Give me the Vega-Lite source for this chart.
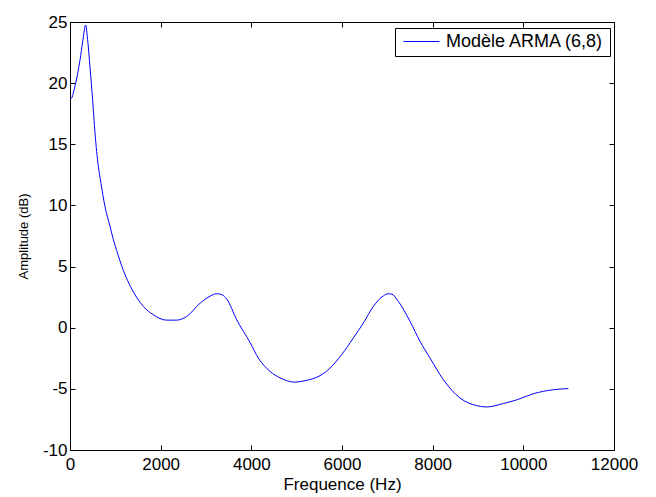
{
  "$schema": "https://vega.github.io/schema/vega-lite/v6.json",
  "width": 544,
  "height": 428,
  "autosize": "none",
  "padding": {"left": 70, "top": 22, "right": 42, "bottom": 47},
  "background": "white",
  "config": {
    "font": "Liberation Sans",
    "view": {"stroke": "black", "strokeWidth": 1},
    "axis": {
      "grid": false,
      "domainColor": "black",
      "domainWidth": 1,
      "tickColor": "black",
      "tickSize": -5,
      "labelColor": "black",
      "titleColor": "black",
      "labelFont": "Liberation Sans",
      "titleFont": "Liberation Sans",
      "titleFontWeight": "normal",
      "labelFontSize": 17
    }
  },
  "data": {
    "values": [
      {"f": 0, "a": 18.7, "s": "Modèle ARMA (6,8)"},
      {"f": 40, "a": 18.8, "s": "Modèle ARMA (6,8)"},
      {"f": 73, "a": 19.2, "s": "Modèle ARMA (6,8)"},
      {"f": 126, "a": 20.0, "s": "Modèle ARMA (6,8)"},
      {"f": 221, "a": 21.9, "s": "Modèle ARMA (6,8)"},
      {"f": 280, "a": 23.4, "s": "Modèle ARMA (6,8)"},
      {"f": 346, "a": 24.75, "s": "Modèle ARMA (6,8)"},
      {"f": 382, "a": 23.8, "s": "Modèle ARMA (6,8)"},
      {"f": 441, "a": 21.3, "s": "Modèle ARMA (6,8)"},
      {"f": 500, "a": 18.6, "s": "Modèle ARMA (6,8)"},
      {"f": 552, "a": 15.9, "s": "Modèle ARMA (6,8)"},
      {"f": 625, "a": 13.2, "s": "Modèle ARMA (6,8)"},
      {"f": 684, "a": 11.8, "s": "Modèle ARMA (6,8)"},
      {"f": 772, "a": 9.9, "s": "Modèle ARMA (6,8)"},
      {"f": 882, "a": 8.3, "s": "Modèle ARMA (6,8)"},
      {"f": 956, "a": 7.2, "s": "Modèle ARMA (6,8)"},
      {"f": 1030, "a": 6.3, "s": "Modèle ARMA (6,8)"},
      {"f": 1176, "a": 4.7, "s": "Modèle ARMA (6,8)"},
      {"f": 1434, "a": 2.7, "s": "Modèle ARMA (6,8)"},
      {"f": 1618, "a": 1.74, "s": "Modèle ARMA (6,8)"},
      {"f": 1838, "a": 1.06, "s": "Modèle ARMA (6,8)"},
      {"f": 2133, "a": 0.62, "s": "Modèle ARMA (6,8)"},
      {"f": 2353, "a": 0.62, "s": "Modèle ARMA (6,8)"},
      {"f": 2574, "a": 0.92, "s": "Modèle ARMA (6,8)"},
      {"f": 2868, "a": 2.0, "s": "Modèle ARMA (6,8)"},
      {"f": 3100, "a": 2.6, "s": "Modèle ARMA (6,8)"},
      {"f": 3236, "a": 2.78, "s": "Modèle ARMA (6,8)"},
      {"f": 3350, "a": 2.7, "s": "Modèle ARMA (6,8)"},
      {"f": 3457, "a": 2.35, "s": "Modèle ARMA (6,8)"},
      {"f": 3677, "a": 0.65, "s": "Modèle ARMA (6,8)"},
      {"f": 3971, "a": -1.2, "s": "Modèle ARMA (6,8)"},
      {"f": 4155, "a": -2.48, "s": "Modèle ARMA (6,8)"},
      {"f": 4412, "a": -3.57, "s": "Modèle ARMA (6,8)"},
      {"f": 4633, "a": -4.1, "s": "Modèle ARMA (6,8)"},
      {"f": 4964, "a": -4.45, "s": "Modèle ARMA (6,8)"},
      {"f": 5184, "a": -4.33, "s": "Modèle ARMA (6,8)"},
      {"f": 5515, "a": -3.92, "s": "Modèle ARMA (6,8)"},
      {"f": 5736, "a": -3.3, "s": "Modèle ARMA (6,8)"},
      {"f": 5993, "a": -2.2, "s": "Modèle ARMA (6,8)"},
      {"f": 6250, "a": -0.84, "s": "Modèle ARMA (6,8)"},
      {"f": 6471, "a": 0.38, "s": "Modèle ARMA (6,8)"},
      {"f": 6691, "a": 1.74, "s": "Modèle ARMA (6,8)"},
      {"f": 6912, "a": 2.6, "s": "Modèle ARMA (6,8)"},
      {"f": 7020, "a": 2.78, "s": "Modèle ARMA (6,8)"},
      {"f": 7096, "a": 2.75, "s": "Modèle ARMA (6,8)"},
      {"f": 7243, "a": 2.15, "s": "Modèle ARMA (6,8)"},
      {"f": 7500, "a": 0.52, "s": "Modèle ARMA (6,8)"},
      {"f": 7721, "a": -1.12, "s": "Modèle ARMA (6,8)"},
      {"f": 7941, "a": -2.48, "s": "Modèle ARMA (6,8)"},
      {"f": 8236, "a": -4.25, "s": "Modèle ARMA (6,8)"},
      {"f": 8603, "a": -5.75, "s": "Modèle ARMA (6,8)"},
      {"f": 8971, "a": -6.37, "s": "Modèle ARMA (6,8)"},
      {"f": 9192, "a": -6.48, "s": "Modèle ARMA (6,8)"},
      {"f": 9559, "a": -6.2, "s": "Modèle ARMA (6,8)"},
      {"f": 9853, "a": -5.9, "s": "Modèle ARMA (6,8)"},
      {"f": 10221, "a": -5.4, "s": "Modèle ARMA (6,8)"},
      {"f": 10662, "a": -5.07, "s": "Modèle ARMA (6,8)"},
      {"f": 10993, "a": -4.98, "s": "Modèle ARMA (6,8)"}
    ]
  },
  "layer": [
    {
      "mark": {"type": "line", "strokeWidth": 1, "interpolate": "monotone"},
      "encoding": {
        "x": {
          "field": "f", "type": "quantitative",
          "scale": {"domain": [0, 12000], "nice": false, "zero": false},
          "axis": {
            "title": "Frequence (Hz)", "titleFontSize": 17, "titlePadding": 4,
            "values": [0, 2000, 4000, 6000, 8000, 10000, 12000],
            "labelExpr": "datum.value + ''", "labelPadding": 11, "labelFlush": false
          }
        },
        "y": {
          "field": "a", "type": "quantitative",
          "scale": {"domain": [-10, 25], "nice": false, "zero": false},
          "axis": {
            "title": "Amplitude (dB)", "titleFontSize": 13, "titlePadding": 12,
            "values": [-10, -5, 0, 5, 10, 15, 20, 25],
            "labelExpr": "datum.value + ''", "labelPadding": 8, "labelFlush": false
          }
        },
        "color": {
          "field": "s", "type": "nominal",
          "scale": {"range": ["#0000ff"]},
          "legend": {
            "title": null, "orient": "none", "legendX": 325, "legendY": 6,
            "fillColor": "white", "strokeColor": "black", "padding": 5,
            "symbolType": "stroke", "symbolSize": 1296, "symbolStrokeWidth": 1,
            "symbolOffset": 3, "labelOffset": 6, "labelFontSize": 18,
            "clipHeight": 17,
            "labelFont": "Liberation Sans", "labelColor": "black", "labelLimit": 400
          }
        }
      }
    },
    {
      "mark": {"type": "line", "opacity": 0},
      "encoding": {
        "x": {
          "field": "f", "type": "quantitative",
          "axis": {"orient": "top", "title": null, "labels": false, "values": [0, 2000, 4000, 6000, 8000, 10000, 12000]}
        },
        "y": {
          "field": "a", "type": "quantitative",
          "axis": {"orient": "right", "title": null, "labels": false, "values": [-10, -5, 0, 5, 10, 15, 20, 25]}
        }
      }
    }
  ],
  "resolve": {"axis": {"x": "independent", "y": "independent"}}
}
